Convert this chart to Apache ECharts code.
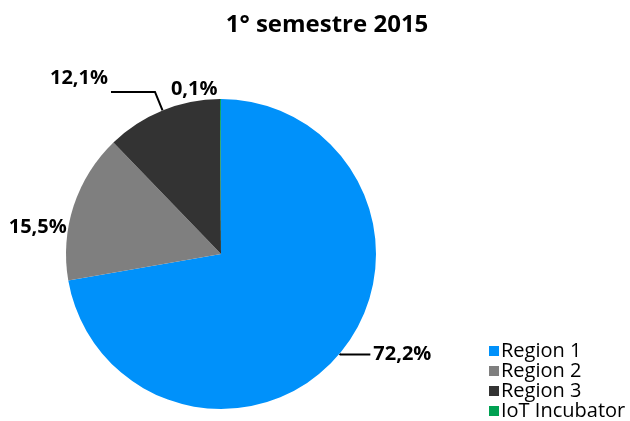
<!DOCTYPE html>
<html>
<head>
<meta charset="utf-8">
<script src="https://cdn.jsdelivr.net/npm/echarts@6/dist/echarts.min.js"></script>
<style>
html,body{margin:0;padding:0;background:#fff;}
#main{width:630px;height:421px;}
</style>
</head>
<body>
<div id="main"></div>
<script>
var names = ['Region 1', 'Region 2', 'Region 3', 'IoT Incubator'];
var values = [72.2, 15.5, 12.1, 0.1];
var colors = ['#0091FA', '#7F7F7F', '#333333', '#00A152'];

// label lines only on region 1 and region 3
var lineLen = [[1, 30], [2, 2], [20, 44], [6, 2]];
var lineShow = [true, false, true, false];
var labelDx = [0, 0, 0, 2];
var labelDy = [0, 22, -14, -4];

var pieData = [];
for (var i = 0; i < names.length; i++) {
	pieData.push({
		name: names[i],
		value: values[i],
		itemStyle: {color: colors[i]},
		labelLine: {show: lineShow[i], length: lineLen[i][0], length2: lineLen[i][1]}
	});
}

var myChart = echarts.init(document.getElementById('main'));
var option = {
	animation: false,
	title: {
		text: '1° semestre 2015',
		left: 322,
		textAlign: 'center',
		top: 8,
		textStyle: {fontFamily: 'Open Sans', fontWeight: 'bold', fontSize: 24, color: '#000'}
	},
	legend: {
		orient: 'vertical',
		left: 489,
		top: 341,
		padding: 0,
		itemWidth: 10,
		itemHeight: 10,
		itemGap: 0,
		icon: 'rect',
		textStyle: {fontFamily: 'Open Sans', fontSize: 20, lineHeight: 20, color: '#000', padding: [0, 0, 0, -3]},
		data: names
	},
	series: [
		{
			type: 'pie',
			center: [221, 254],
			radius: 155,
			startAngle: 90,
			clockwise: true,
			avoidLabelOverlap: false,
			label: {
				show: true,
				formatter: function (p) { return p.value.toFixed(1).replace('.', ',') + '%'; },
				fontFamily: 'Open Sans',
				fontWeight: 'bold',
				fontSize: 20,
				color: '#000',
				overflow: 'none',
				distanceToLabelLine: 3
			},
			labelLine: {lineStyle: {color: '#000', width: 2}},
			labelLayout: function (p) {
				return {dx: labelDx[p.dataIndex], dy: labelDy[p.dataIndex]};
			},
			data: pieData
		}
	]
};
myChart.setOption(option);
</script>
</body>
</html>
